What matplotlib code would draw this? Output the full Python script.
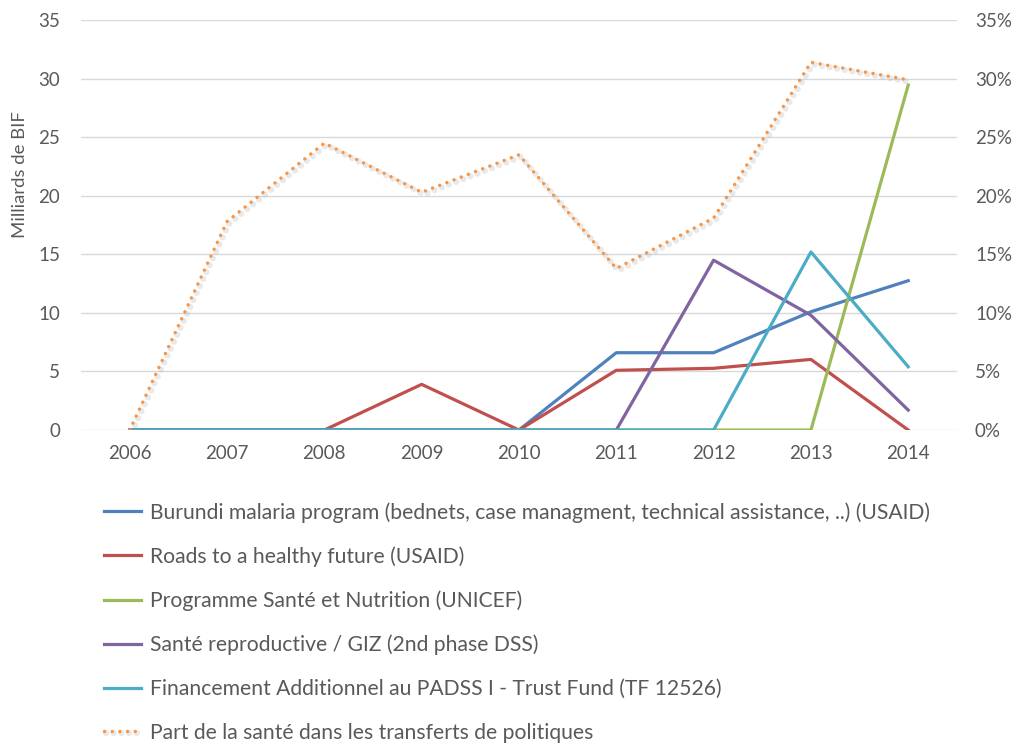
import matplotlib
matplotlib.use('Agg')
import matplotlib.pyplot as plt
import matplotlib.patheffects as pe
from matplotlib.ticker import FuncFormatter

plt.rcParams['font.family'] = ['Lato', 'DejaVu Sans']

years = ['2006', '2007', '2008', '2009', '2010', '2011', '2012', '2013', '2014']

malaria = [0, 0, 0, 0, 0, 6.6, 6.6, 10.1, 12.75]
roads = [0, 0, 0, 3.9, 0, 5.1, 5.27, 6.03, 0]
unicef = [0, 0, 0, 0, 0, 0, 0, 0, 29.45]
giz = [0, 0, 0, 0, 0, 0, 14.5, 9.8, 1.7]
padss = [0, 0, 0, 0, 0, 0, 0, 15.2, 5.4]
part_sante = [0, 17.8, 24.5, 20.3, 23.5, 13.8, 18.1, 31.4, 29.9]

labels = [
    'Burundi malaria program (bednets, case managment, technical assistance, ..) (USAID)',
    'Roads to a healthy future (USAID)',
    'Programme Santé et Nutrition (UNICEF)',
    'Santé reproductive / GIZ (2nd phase DSS)',
    'Financement Additionnel au PADSS I - Trust Fund (TF 12526)',
    'Part de la santé dans les transferts de politiques',
]
colors = ['#4F81BD', '#C0504D', '#9BBB59', '#8064A2', '#4BACC6', '#F79646']
txt = '#595959'

fig = plt.figure(figsize=(10.22, 7.44), dpi=100)
ax = fig.add_axes([0.0793, 0.422, 0.857, 0.551])
ax2 = ax.twinx()

x = list(range(len(years)))
handles = []
for vals, c, lab in zip([malaria, roads, unicef, giz, padss], colors[:5], labels[:5]):
    h, = ax.plot(x, vals, color=c, lw=2.3, label=lab, zorder=3)
    handles.append(h)

# part de la sante (axe de droite, en %)
h, = ax2.plot(x, part_sante, color=colors[5], lw=2.5, linestyle=(0, (0.01, 2.2)),
              dash_capstyle='round', label=labels[5], zorder=4,
              path_effects=[pe.SimpleLineShadow(offset=(1.5, -1.5), shadow_color='#aaaaaa', alpha=0.25,
                                                linewidth=4.5),
                            pe.Normal()])
handles.append(h)

for a in (ax, ax2):
    a.set_ylim(0, 35)
    a.set_yticks(range(0, 36, 5))
    a.set_xlim(-0.5, len(years) - 0.5)
    for s in a.spines.values():
        s.set_visible(False)
    a.tick_params(length=0, labelsize=13.5, colors=txt)

ax.tick_params(axis='y', pad=15)
ax.tick_params(axis='x', pad=11)
ax2.tick_params(axis='y', pad=13)
ax2.yaxis.set_major_formatter(FuncFormatter(lambda v, p: '%d%%' % v))
ax.set_xticks(x)
ax.set_xticklabels(years)
ax.grid(axis='y', color='#D9D9D9', lw=1)
ax.set_axisbelow(True)
ax.set_ylabel('Milliards de BIF', fontsize=13.3, color=txt)
ax.yaxis.set_label_coords(-0.06, 0.622)

fig.legend(handles=handles, loc='upper left', bbox_to_anchor=(104 / 1022, 1 - 502 / 744), frameon=False,
           fontsize=15.2, labelcolor=txt, handlelength=1.75, handletextpad=0.45, labelspacing=1.12,
           borderpad=0, borderaxespad=0)

fig.savefig('out.png', dpi=100)
